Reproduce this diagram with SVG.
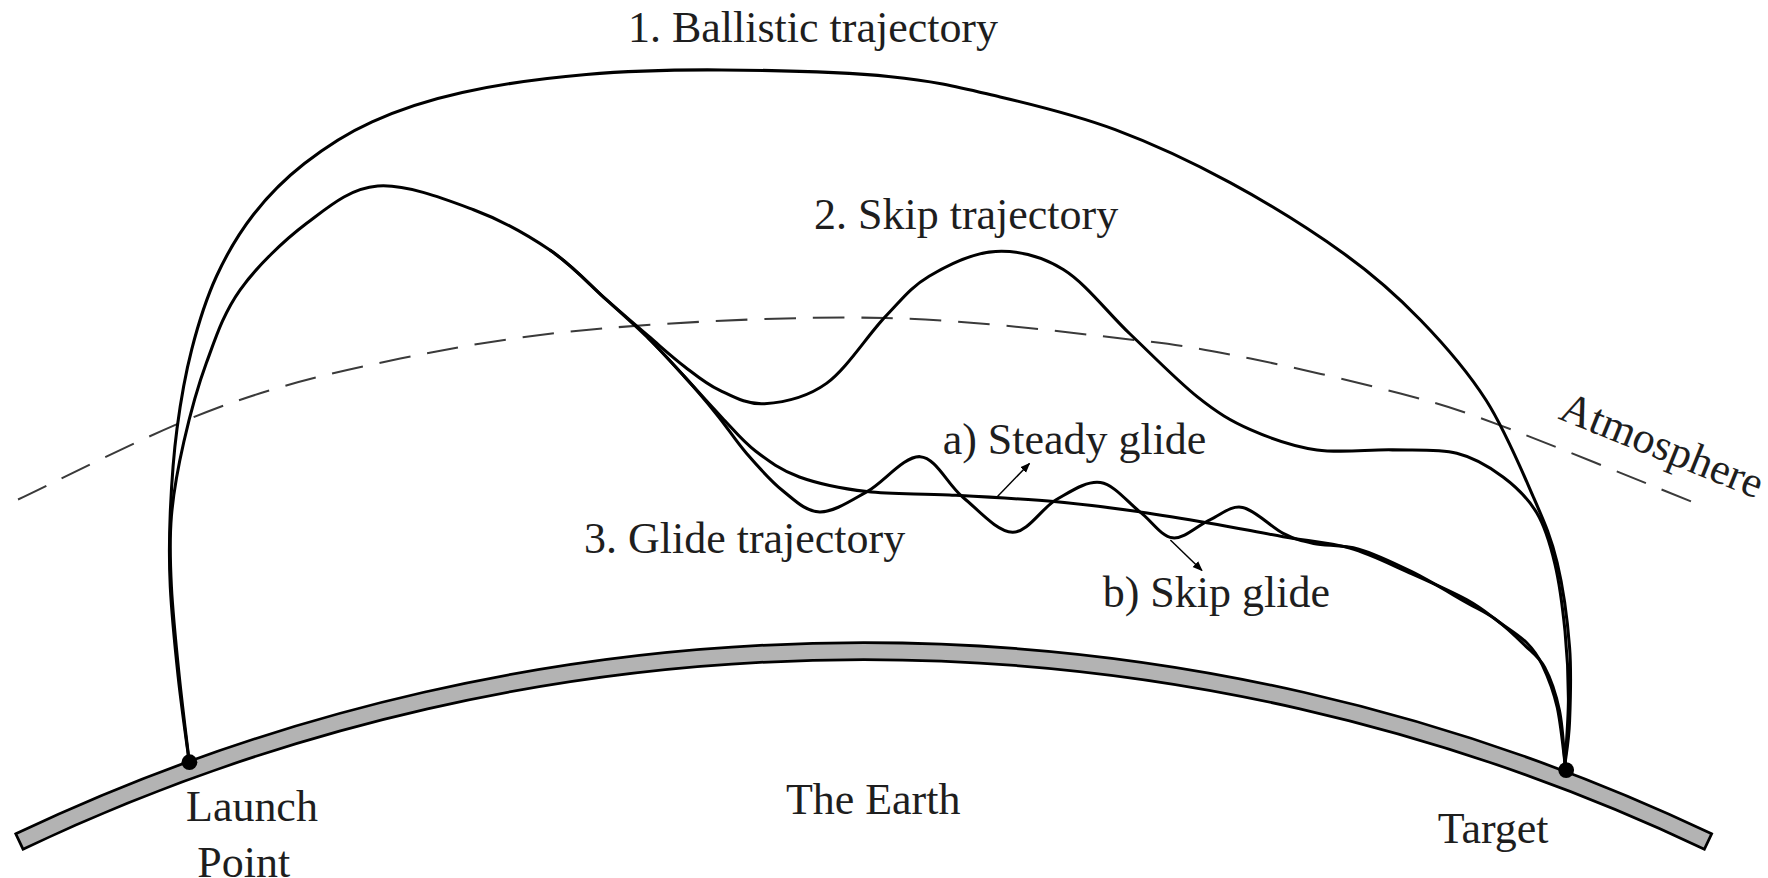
<svg xmlns="http://www.w3.org/2000/svg" width="1768" height="878" viewBox="0 0 1768 878">
<style>
.traj{fill:none;stroke:#000;stroke-width:2.7;stroke-linecap:round;stroke-linejoin:round}
.dash{fill:none;stroke:#3a3a3a;stroke-width:1.8;stroke-dasharray:28 15}
.arw{fill:none;stroke:#000;stroke-width:1.3}
.lbl{font-family:"Liberation Serif","Times New Roman",serif;font-size:39px;fill:#1e1e1e}
.dot{fill:#000}
</style>
<defs>
<marker id="ah" viewBox="0 0 10 10" refX="9" refY="5" markerWidth="9" markerHeight="9" markerUnits="userSpaceOnUse" orient="auto">
<path d="M0,1 L10,5 L0,9 Z" fill="#000"/>
</marker>
</defs>
<rect width="1768" height="878" fill="#fff"/>
<g transform="scale(1.127551)">
<g id="earth">
<path d="M14 739.5 A1753 1753 0 0 1 1518 739.5 L1511.6 753.1 A1738 1738 0 0 0 20.4 753.1 Z" fill="#b3b3b3" stroke="#000" stroke-width="2.4" stroke-linejoin="miter"/>
</g>
<g id="atmosphere">
<path class="dash" d="M16 443 C45.3 429.5,135.5 382.8,192 362 C248.5 341.2,297.3 329.8,355 318 C412.7 306.2,466.3 297,538 291 C609.7 285,707.7 280.3,785 282 C862.3 283.7,948 295,1002 301 C1056 307,1069 310,1109 318 C1149 326,1205.2 339.2,1242 349 C1278.8 358.8,1285.7 360.5,1330 377 C1374.3 393.5,1478.3 436.2,1508 448"/>
</g>
<g id="connectors">
<path id="ballistic" class="traj" d="M168 677 C166.3 664.2,160.8 626.2,158 600 C155.2 573.8,152.2 544.2,151 520 C149.8 495.8,150 478.3,151 455 C152 431.7,153.8 404.2,157 380 C160.2 355.8,164.2 332.5,170 310 C175.8 287.5,182.8 265,192 245 C201.2 225,212 206.7,225 190 C238 173.3,252.5 158.7,270 145 C287.5 131.3,306.7 118.5,330 108 C353.3 97.5,378.3 89,410 82 C441.7 75,481.7 69.3,520 66 C558.3 62.7,595 61.7,640 62 C685 62.3,748.8 64,790 68 C831.2 72,853.8 78.2,887 86 C920.2 93.8,955 102.3,989 115 C1023 127.7,1057.2 143.7,1091 162 C1124.8 180.3,1163.8 204.7,1192 225 C1220.2 245.3,1239 262.3,1260 284 C1281 305.7,1301.3 328.8,1318 355 C1334.7 381.2,1349.5 417,1360 441 C1370.5 465,1375.7 476.8,1381 499 C1386.3 521.2,1390.2 550.5,1392 574 C1393.8 597.5,1392.7 622.8,1392 640 C1391.3 657.2,1388.7 670.8,1388 677"/>
<path id="skip" class="traj" d="M168 677 C166.5 664.2,161.7 626.2,159 600 C156.3 573.8,153.2 543.7,152 520 C150.8 496.3,150.2 479.3,152 458 C153.8 436.7,157.8 414.7,163 392 C168.2 369.3,174.7 344.5,183 322 C191.3 299.5,198.2 277.7,213 257 C227.8 236.3,251.7 213.3,272 198 C292.3 182.7,310.3 167,335 165 C359.7 163,394.5 176.5,420 186 C445.5 195.5,468.3 208.7,488 222 C507.7 235.3,523.5 253.3,538 266 C552.5 278.7,563.5 288.2,575 298 C586.5 307.8,596.5 317,607 325 C617.5 333,626.2 340.5,638 346 C649.8 351.5,662.2 359,678 358 C693.8 357,715.2 352.8,733 340 C750.8 327.2,769.8 296.8,785 281 C800.2 265.2,807.7 254.7,824 245 C840.3 235.3,863.2 224,883 223 C902.8 222,923.2 226.8,943 239 C962.8 251.2,982.2 277.2,1002 296 C1021.8 314.8,1044.2 337.8,1062 352 C1079.8 366.2,1091.3 373.2,1109 381 C1126.7 388.8,1147 396,1168 399 C1189 402,1214.3 398.5,1235 399 C1255.7 399.5,1275.7 398,1292 402 C1308.3 406,1321.2 414.2,1333 423 C1344.8 431.8,1355.3 442.2,1363 455 C1370.7 467.8,1374.8 482.5,1379 500 C1383.2 517.5,1386 540,1388 560 C1390 580,1391 600.5,1391 620 C1391 639.5,1388.5 667.5,1388 677"/>
<path id="steady-glide" class="traj" d="M488 222 C507.7 235.3,523.5 253,538 266 C552.5 279,563.5 288.7,575 300 C586.5 311.3,596.2 322.3,607 334 C617.8 345.7,629.5 359,640 370 C650.5 381,658.5 391.2,670 400 C681.5 408.8,692.5 417,709 423 C725.5 429,746.8 433.3,769 436 C791.2 438.7,814 437.5,842 439 C870 440.5,908.8 442.5,937 445 C965.2 447.5,988.3 450.8,1011 454 C1033.7 457.2,1051.8 460.3,1073 464 C1094.2 467.7,1117.3 472.3,1138 476 C1158.7 479.7,1178.3 480.7,1197 486 C1215.7 491.3,1232.7 500.3,1250 508 C1267.3 515.7,1287.7 524.7,1301 532 C1314.3 539.3,1321.2 545.7,1330 552 C1338.8 558.3,1347.7 563.7,1354 570 C1360.3 576.3,1363.5 580.5,1368 590 C1372.5 599.5,1377.7 612.5,1381 627 C1384.3 641.5,1386.8 668.7,1388 677"/>
<path id="skip-glide" class="traj" d="M575 300 C586.5 311.3,596.8 322.7,607 334 C617.2 345.3,626.8 356.7,636 368 C645.2 379.3,652.3 390.8,662 402 C671.7 413.2,683.2 426.3,694 435 C704.8 443.7,714.5 453.8,727 454 C739.5 454.2,754.2 444.2,769 436 C783.8 427.8,801.8 404.2,816 405 C830.2 405.8,840.3 429.8,854 441 C867.7 452.2,884.2 471.7,898 472 C911.8 472.3,924 450.3,937 443 C950 435.7,963.7 426.2,976 428 C988.3 429.8,1000.3 445.8,1011 454 C1021.7 462.2,1029.7 475.8,1040 477 C1050.3 478.2,1062.7 465.5,1073 461 C1083.3 456.5,1091.2 448,1102 450 C1112.8 452,1127.5 467.7,1138 473 C1148.5 478.3,1153.8 479.7,1165 482 C1176.2 484.3,1190.5 482.8,1205 487 C1219.5 491.2,1236.2 499.2,1252 507 C1267.8 514.8,1287.7 527,1300 534 C1312.3 541,1317.3 542.7,1326 549 C1334.7 555.3,1344.7 564.8,1352 572 C1359.3 579.2,1364.8 582.3,1370 592 C1375.2 601.7,1380 615.8,1383 630 C1386 644.2,1387.2 669.2,1388 677"/>
<line id="arrow-a" class="arw" x1="884" y1="441" x2="913" y2="411" marker-end="url(#ah)"/>
<line id="arrow-b" class="arw" x1="1038" y1="479" x2="1066" y2="506" marker-end="url(#ah)"/>
</g>
<g id="launch-point">
<circle class="dot" cx="168" cy="676" r="7"/>
<text class="lbl" x="165" y="728">Launch</text>
<text class="lbl" x="175" y="778">Point</text>
</g>
<g id="target">
<circle class="dot" cx="1389" cy="683" r="7"/>
<text class="lbl" x="1275" y="748">Target</text>
</g>
<g id="labels">
<text class="lbl" x="557" y="37">1. Ballistic trajectory</text>
<text class="lbl" x="722" y="203">2. Skip trajectory</text>
<text class="lbl" x="836" y="403">a) Steady glide</text>
<text class="lbl" x="518" y="490">3. Glide trajectory</text>
<text class="lbl" x="978" y="538">b) Skip glide</text>
<text class="lbl" x="697" y="722">The Earth</text>
<text class="lbl" transform="translate(1381 371) rotate(22)">Atmosphere</text>
</g>
</g>
</svg>
